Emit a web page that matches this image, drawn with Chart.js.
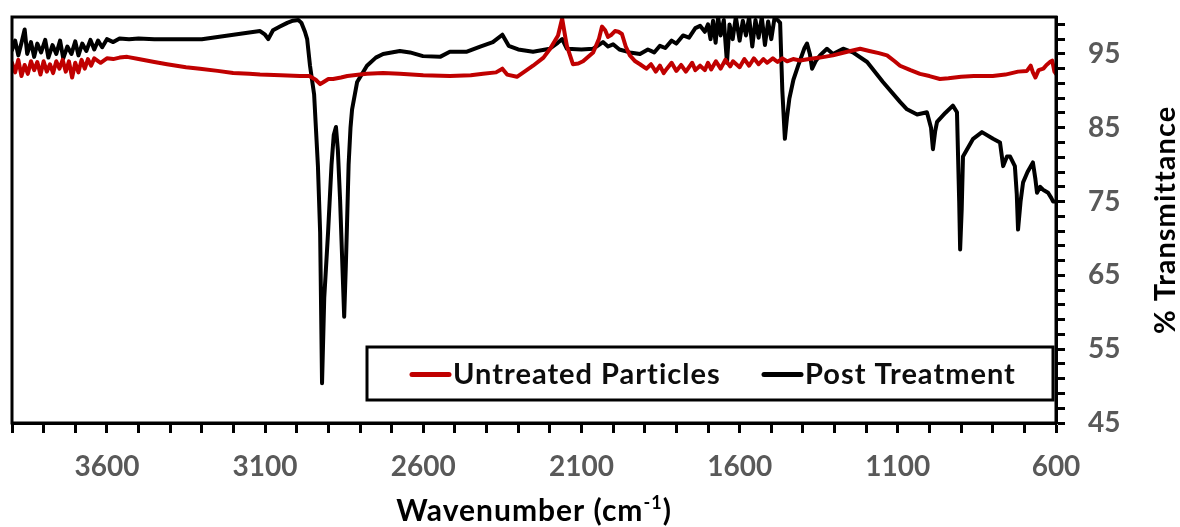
<!DOCTYPE html>
<html>
<head>
<meta charset="utf-8">
<script src="https://cdn.jsdelivr.net/npm/chart.js@4.4.1/dist/chart.umd.min.js"></script>
<style>
  html, body { margin: 0; padding: 0; background: #fff; }
  #wrap { width: 1180px; height: 527px; }
</style>
</head>
<body>
<div id="wrap"><canvas id="myChart" width="1180" height="527"></canvas></div>
<script>
// FTIR spectra, wavenumber (cm-1) vs % transmittance
const seriesNames = ["Untreated Particles", "Post Treatment"];
const seriesColors = ["#c00000", "#000000"];

const untreatedWn = [
  3900, 3890, 3880, 3870, 3860, 3850, 3840, 3830, 3820, 3810, 3800, 3790, 3780, 3770, 3760, 3750,
  3740, 3730, 3720, 3710, 3700, 3690, 3680, 3670, 3660, 3650, 3640, 3620, 3600, 3580, 3560, 3536,
  3500, 3450, 3410, 3350, 3306, 3250, 3201, 3150, 3116, 3050, 2990, 2960, 2940, 2926, 2915, 2900,
  2885, 2860, 2840, 2800, 2778, 2727, 2674, 2600, 2516, 2450, 2411, 2370, 2350, 2335, 2304, 2280,
  2253, 2220, 2199, 2174, 2161, 2150, 2146, 2127, 2110, 2095, 2063, 2045, 2035, 2025, 2016, 2005,
  1994, 1983, 1972, 1960, 1947, 1930, 1915, 1895, 1880, 1865, 1852, 1840, 1830, 1815, 1800, 1785,
  1770, 1750, 1740, 1725, 1710, 1700, 1690, 1675, 1660, 1645, 1630, 1621, 1600, 1585, 1570, 1555,
  1540, 1525, 1513, 1495, 1480, 1465, 1450, 1431, 1409, 1380, 1346, 1305, 1260, 1219, 1190, 1160,
  1134, 1110, 1093, 1060, 1030, 1000, 967, 940, 900, 860, 800, 760, 720, 692, 680, 673,
  665, 655, 640, 630, 619, 612, 605, 600
];
const untreatedT = [
  93.8, 92.5, 94.2, 92.0, 93.5, 92.3, 94.0, 92.8, 93.9, 92.2, 94.0, 92.6, 93.6, 92.4, 94.0, 93.0,
  94.2, 92.6, 94.0, 91.8, 93.8, 92.5, 94.2, 93.0, 94.3, 93.4, 94.4, 93.8, 94.4, 94.3, 94.5, 94.6,
  94.3, 93.9, 93.6, 93.2, 93.0, 92.7, 92.4, 92.3, 92.2, 92.1, 92.0, 92.0, 91.5, 90.9, 91.2, 91.6,
  91.6, 91.8, 92.0, 92.2, 92.3, 92.4, 92.3, 92.1, 92.0, 92.1, 92.3, 92.5, 93.0, 92.2, 91.9, 92.6,
  93.4, 94.5, 95.7, 97.5, 99.8, 97.0, 96.1, 93.6, 93.7, 94.0, 95.2, 97.0, 98.7, 98.2, 97.3, 97.6,
  98.1, 98.0, 97.7, 96.0, 94.8, 94.0, 93.6, 93.0, 93.6, 92.6, 93.4, 92.4, 93.0, 93.8, 92.7, 93.5,
  92.6, 93.8, 92.8, 93.4, 92.8, 93.8, 92.9, 94.0, 93.0, 94.2, 93.3, 94.0, 93.2, 94.3, 93.4, 94.4,
  93.6, 94.3, 93.8, 94.4, 93.9, 94.4, 94.0, 94.3, 94.1, 94.3, 94.5, 94.8, 95.3, 95.7, 95.4, 95.1,
  94.8, 94.0, 93.4, 92.8, 92.3, 92.0, 91.6, 91.7, 91.9, 92.0, 92.0, 92.2, 92.6, 92.7, 93.4, 92.5,
  91.8, 92.8, 93.0, 93.5, 93.9, 94.1, 92.6, 92.3
];

const postWn = [
  3900, 3890, 3880, 3870, 3860, 3852, 3840, 3830, 3820, 3808, 3795, 3785, 3772, 3760, 3748, 3738,
  3725, 3712, 3700, 3690, 3678, 3665, 3652, 3640, 3628, 3615, 3600, 3580, 3560, 3530, 3500, 3450,
  3400, 3350, 3300, 3250, 3200, 3150, 3116, 3100, 3090, 3075, 3053, 3030, 3012, 2995, 2985, 2974,
  2967, 2958, 2945, 2933, 2926, 2920, 2913, 2901, 2890, 2883, 2876, 2870, 2863, 2850, 2845, 2841,
  2836, 2830, 2825, 2809, 2778, 2750, 2727, 2674, 2642, 2601, 2547, 2516, 2462, 2420, 2380, 2350,
  2330, 2300, 2253, 2200, 2175, 2161, 2146, 2100, 2063, 2032, 2016, 2000, 1980, 1947, 1915, 1890,
  1870, 1852, 1835, 1815, 1800, 1779, 1760, 1740, 1725, 1710, 1700, 1692, 1684, 1676, 1668, 1660,
  1650, 1640, 1632, 1622, 1612, 1600, 1590, 1580, 1570, 1560, 1550, 1540, 1530, 1520, 1510, 1500,
  1490, 1480, 1472, 1465, 1457, 1450, 1443, 1430, 1415, 1395, 1387, 1378, 1371, 1360, 1346, 1324,
  1305, 1273, 1242, 1197, 1147, 1093, 1071, 1039, 1008, 995, 989, 982, 976, 950, 926, 913,
  906, 903, 898, 894, 862, 834, 799, 777, 767, 755, 745, 730, 724, 720, 712, 704,
  690, 673, 665, 660, 650, 641, 625, 615, 609, 600
];
const postT = [
  95.5, 96.8, 94.8, 96.5, 98.3, 95.0, 96.6, 94.6, 96.4, 95.2, 96.9, 94.5, 96.2, 95.0, 96.8, 94.4,
  96.0, 95.0, 96.7, 94.8, 96.4, 95.4, 96.9, 95.6, 96.8, 95.9, 97.0, 96.6, 97.1, 97.0, 97.1, 97.0,
  97.0, 97.0, 97.0, 97.3, 97.6, 97.9, 98.1, 97.6, 97.0, 98.2, 98.7, 99.2, 99.5, 99.6, 99.2, 98.0,
  97.0, 93.4, 89.5, 79.8, 70.8, 50.4, 62.0, 70.8, 80.0, 84.0, 85.1, 82.0, 75.3, 59.4, 66.0, 72.0,
  80.0, 85.0, 87.5, 91.2, 93.4, 94.5, 95.0, 95.4, 95.2, 94.7, 94.6, 95.3, 95.3, 96.0, 96.6, 97.6,
  96.1, 95.6, 95.3, 95.7, 96.5, 97.0, 95.7, 95.6, 95.7, 96.6, 96.0, 96.3, 95.6, 95.2, 95.0, 95.6,
  95.2, 96.1, 95.8, 96.8, 96.4, 97.5, 97.2, 98.5, 98.8, 98.0, 99.0, 97.0, 99.5, 96.5, 100, 97.5,
  99.6, 93.8, 99.0, 97.0, 100, 96.8, 99.5, 97.5, 100, 96.0, 99.6, 97.2, 100, 96.2, 99.4, 97.0,
  99.8, 99.6, 99.2, 90.0, 83.5, 86.5, 88.9, 91.5, 93.4, 95.8, 96.4, 95.0, 93.0, 94.0, 94.8, 95.7,
  95.0, 95.7, 95.2, 93.9, 91.2, 88.5, 87.5, 86.8, 87.1, 85.0, 82.1, 84.5, 85.8, 87.0, 88.0, 87.1,
  75.0, 68.5, 74.0, 81.1, 83.5, 84.4, 83.5, 83.0, 79.8, 81.1, 81.1, 79.8, 76.0, 71.2, 75.0, 77.6,
  79.0, 80.3, 78.0, 76.2, 77.0, 76.6, 76.2, 75.5, 75.0, 75.0
];

const xTickLabels = [600, 1100, 1600, 2100, 2600, 3100, 3600];
const yTickLabels = [45, 55, 65, 75, 85, 95];
const xRange = [600, 3900];
const yRange = [45, 100];

const FONT = "Lato, 'Open Sans', sans-serif";
const TICK_GREY = "#595959";

function toPoints(xs, ys) {
  return xs.map((x, i) => ({ x: x, y: ys[i] }));
}

// minor ticks: every 100 on x, every 2 on y (from the axis minimum)
function minorTicks(min, max, step) {
  const out = [];
  for (let v = min; v <= max + 1e-9; v += step) out.push({ value: v });
  return out;
}

const decorations = {
  id: "decorations",
  afterDraw(chart) {
    const ctx = chart.ctx;
    const a = chart.chartArea;
    ctx.save();

    // plot frame
    ctx.strokeStyle = "#000";
    ctx.lineWidth = 3;
    ctx.strokeRect(a.left, a.top, a.right - a.left, a.bottom - a.top);

    // legend box inside the plot
    const bx = 367, by = a.bottom - 76, bw = a.right - 3 - bx, bh = 53;
    ctx.fillStyle = "#fff";
    ctx.fillRect(bx, by, bw, bh);
    ctx.strokeRect(bx, by, bw, bh);
    const itemX = [410, 762];
    const ly = by + bh / 2 + 1;
    ctx.font = "bold 29px " + FONT;
    ctx.letterSpacing = "1px";
    ctx.textBaseline = "middle";
    ctx.textAlign = "left";
    chart.data.datasets.forEach((ds, i) => {
      ctx.strokeStyle = ds.borderColor;
      ctx.lineWidth = 5;
      ctx.lineCap = "round";
      ctx.beginPath();
      ctx.moveTo(itemX[i] + 2, ly);
      ctx.lineTo(itemX[i] + 39, ly);
      ctx.stroke();
      ctx.fillStyle = "#0d0d0d";
      ctx.fillText(ds.label, itemX[i] + 43, ly);
    });

    // x axis title with superscript
    ctx.fillStyle = "#000";
    ctx.textBaseline = "alphabetic";
    const main = "Wavenumber (cm";
    const sup = "-1";
    const close = ")";
    ctx.font = "bold 30px " + FONT;
    const wMain = ctx.measureText(main).width;
    const wClose = ctx.measureText(close).width;
    ctx.font = "bold 18px " + FONT;
    const wSup = ctx.measureText(sup).width;
    let tx = (a.left + a.right) / 2 - (wMain + wSup + wClose) / 2;
    const ty = 521;
    ctx.font = "bold 30px " + FONT;
    ctx.fillText(main, tx, ty);
    tx += wMain;
    ctx.font = "bold 18px " + FONT;
    ctx.fillText(sup, tx, ty - 12);
    tx += wSup;
    ctx.font = "bold 30px " + FONT;
    ctx.fillText(close, tx, ty);

    // y axis title, reading bottom to top
    ctx.translate(1166, (a.top + a.bottom) / 2);
    ctx.rotate(-Math.PI / 2);
    ctx.textAlign = "center";
    ctx.textBaseline = "middle";
    ctx.font = "bold 29px " + FONT;
    ctx.fillText("% Transmittance", 0, 0);

    ctx.restore();
  },
};

const ctx = document.getElementById("myChart").getContext("2d");
window.chart = new Chart(ctx, {
  type: "line",
  data: {
    datasets: [
      {
        label: seriesNames[0],
        data: toPoints(untreatedWn, untreatedT),
        borderColor: seriesColors[0],
        backgroundColor: seriesColors[0],
        borderWidth: 4,
      },
      {
        label: seriesNames[1],
        data: toPoints(postWn, postT),
        borderColor: seriesColors[1],
        backgroundColor: seriesColors[1],
        borderWidth: 4,
      },
    ],
  },
  options: {
    responsive: false,
    animation: false,
    devicePixelRatio: 1,
    layout: { padding: { left: 12, top: 17, right: 0, bottom: 0 } },
    elements: {
      point: { radius: 0 },
      line: { tension: 0, borderJoinStyle: "round", borderCapStyle: "round" },
    },
    plugins: {
      legend: { display: false },
      tooltip: { enabled: false },
    },
    scales: {
      x: {
        type: "linear",
        reverse: true,
        position: "bottom",
        min: xRange[0],
        max: xRange[1],
        afterBuildTicks: (scale) => {
          scale.ticks = minorTicks(xRange[0], xRange[1], 100);
        },
        afterFit: (scale) => {
          scale.height = 104;
        },
        grid: {
          drawOnChartArea: false,
          tickLength: 10,
          tickWidth: 3,
          tickColor: "#000",
        },
        border: { color: "#000", width: 3 },
        ticks: {
          autoSkip: false,
          maxRotation: 0,
          padding: 17,
          color: TICK_GREY,
          font: { family: FONT, size: 28, weight: "bold" },
          callback: (v) => (xTickLabels.includes(v) ? String(v) : ""),
        },
      },
      y: {
        position: "right",
        min: yRange[0],
        max: yRange[1],
        afterBuildTicks: (scale) => {
          scale.ticks = minorTicks(yRange[0], yRange[1] - 1, 2);
        },
        afterFit: (scale) => {
          scale.width = 124;
          scale.paddingTop = 0;
          scale.paddingBottom = 0;
        },
        grid: {
          drawOnChartArea: false,
          tickLength: 9,
          tickWidth: 3,
          tickColor: "#000",
        },
        border: { color: "#000", width: 3 },
        ticks: {
          autoSkip: false,
          padding: 23,
          color: TICK_GREY,
          font: { family: FONT, size: 28, weight: "bold" },
          callback: (v) => (yTickLabels.includes(v) ? String(v) : ""),
        },
      },
    },
  },
  plugins: [decorations],
});
</script>
</body>
</html>
